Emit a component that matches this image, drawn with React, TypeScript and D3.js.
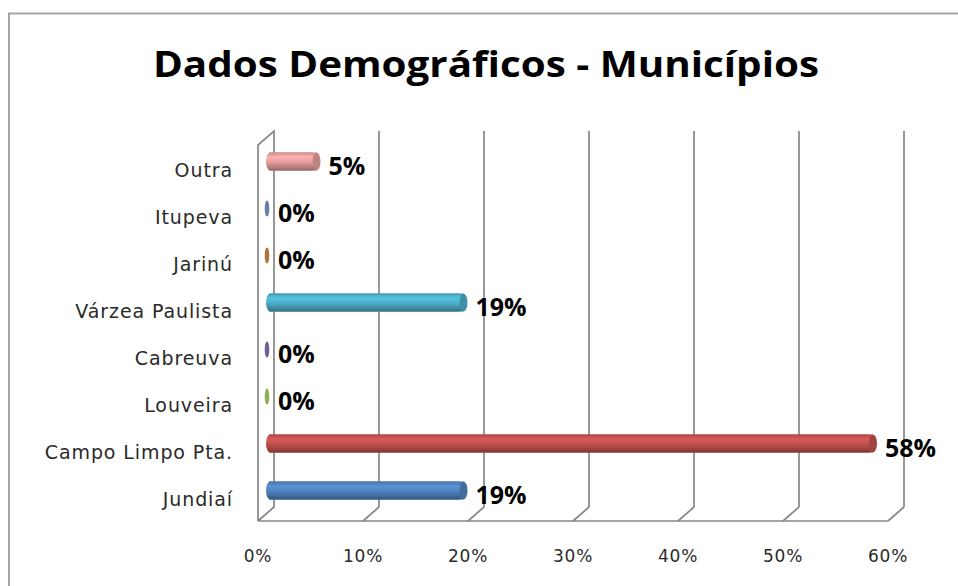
import React from "react";
import * as d3 from "d3";

const categories = ["Jundiaí", "Campo Limpo Pta.", "Louveira", "Cabreuva", "Várzea Paulista", "Jarinú", "Itupeva", "Outra"];
const values = [19, 58, 0, 0, 19, 0, 0, 5];
const colors = ["#4F81BD", "#C0504D", "#9BBB59", "#8064A2", "#4BACC6", "#C07A3E", "#7088AE", "#E39C9C"];
const ticks = [0, 10, 20, 30, 40, 50, 60];
const title = "Dados Demográficos - Municípios";

const W = 958, H = 586;
const DX = 16, DY = -14;

export default function App() {
  const x = d3.scaleLinear().domain([0, 60]).range([258, 888]);
  const y = d3.scaleBand().domain([...categories].reverse()).range([145, 521]).paddingInner(0);
  const floorY = 521;
  const topY = 145;
  const grid = "#868686";
  const labelFont = "DejaVu Sans, Verdana, sans-serif";
  const boldFont = "'Open Sans', Lato, sans-serif";
  const r = 9;

  return (
    <svg width={W} height={H} style={{ position: "absolute", left: 0, top: 0, background: "#fff" }}>
      <defs>
        {colors.map((c, i) => {
          const base = d3.color(c)!;
          return (
            <linearGradient key={i} id={`cyl${i}`} x1="0" y1="0" x2="0" y2="1">
              <stop offset="0%" stopColor={base.darker(0.3).formatHex()} />
              <stop offset="25%" stopColor={base.brighter(0.35).formatHex()} />
              <stop offset="55%" stopColor={base.formatHex()} />
              <stop offset="100%" stopColor={base.darker(1.1).formatHex()} />
            </linearGradient>
          );
        })}
      </defs>
      {/* outer chart border */}
      <path d={`M9,${H} L9,13.5 L${W},13.5`} fill="none" stroke="#a6a6a6" strokeWidth={2} />
      {/* title */}
      <text x={486} y={77} textAnchor="middle" fontFamily={boldFont} fontWeight="bold" fontSize={36} textLength={666} lengthAdjust="spacingAndGlyphs" fill="#000">{title}</text>

      {/* left wall */}
      <path d={`M${x(0)},${floorY} L${x(0)},${topY} L${x(0) + DX},${topY + DY} L${x(0) + DX},${floorY + DY} L${x(0)},${floorY}`} fill="none" stroke={grid} strokeWidth={1.7} />
      {/* floor front edge */}
      <line x1={x(0)} x2={x(60)} y1={floorY} y2={floorY} stroke={grid} strokeWidth={1.7} />
      {/* gridlines on back wall + floor diagonals */}
      {ticks.map((t) => (
        <g key={t}>
          {t > 0 && <line x1={x(t) + DX} x2={x(t) + DX} y1={topY + DY} y2={floorY + DY} stroke={grid} strokeWidth={1.7} />}
          {t > 0 && <line x1={x(t) + DX} x2={x(t)} y1={floorY + DY} y2={floorY} stroke={grid} strokeWidth={1.7} />}
          <text x={x(t)} y={556} textAnchor="middle" dominantBaseline="central" fontFamily={labelFont} fontSize={17} letterSpacing={0.8} fill="#2a2a2a">{t}%</text>
        </g>
      ))}

      {/* category labels */}
      {categories.map((c) => (
        <text key={c} x={233} y={y(c)! + y.bandwidth() / 2 + 1} textAnchor="end" dominantBaseline="central" fontFamily={labelFont} fontSize={19} letterSpacing={0.9} fill="#2a2a2a">{c}</text>
      ))}

      {/* bars */}
      {categories.map((c, i) => {
        const cy = y(c)! + y.bandwidth() / 2 + DY / 2;
        const x0 = x(0) + DX / 2;
        const x1 = x(values[i]) + DX / 2 - 2;
        const base = d3.color(colors[i])!;
        return (
          <g key={c}>
            {values[i] > 0 ? (
              <>
                <rect x={x0} y={cy - r} width={x1 - x0} height={2 * r} rx={4} ry={r} fill={`url(#cyl${i})`} />
                <rect x={x0 + 3} y={cy - r} width={x1 - x0 - 3} height={2 * r} fill={`url(#cyl${i})`} />
                <ellipse cx={x1} cy={cy} rx={4} ry={r} fill={base.darker(0.5).formatHex()} />
              </>
            ) : (
              <ellipse cx={x0 + 1} cy={cy} rx={2.3} ry={r - 1} fill={base.darker(0.2).formatHex()} />
            )}
            <text x={x1 + (values[i] > 0 ? 12 : 14)} y={cy + 3} dominantBaseline="central" fontFamily={boldFont} fontWeight="bold" fontSize={25} fill="#000">{values[i]}%</text>
          </g>
        );
      })}
    </svg>
  );
}
